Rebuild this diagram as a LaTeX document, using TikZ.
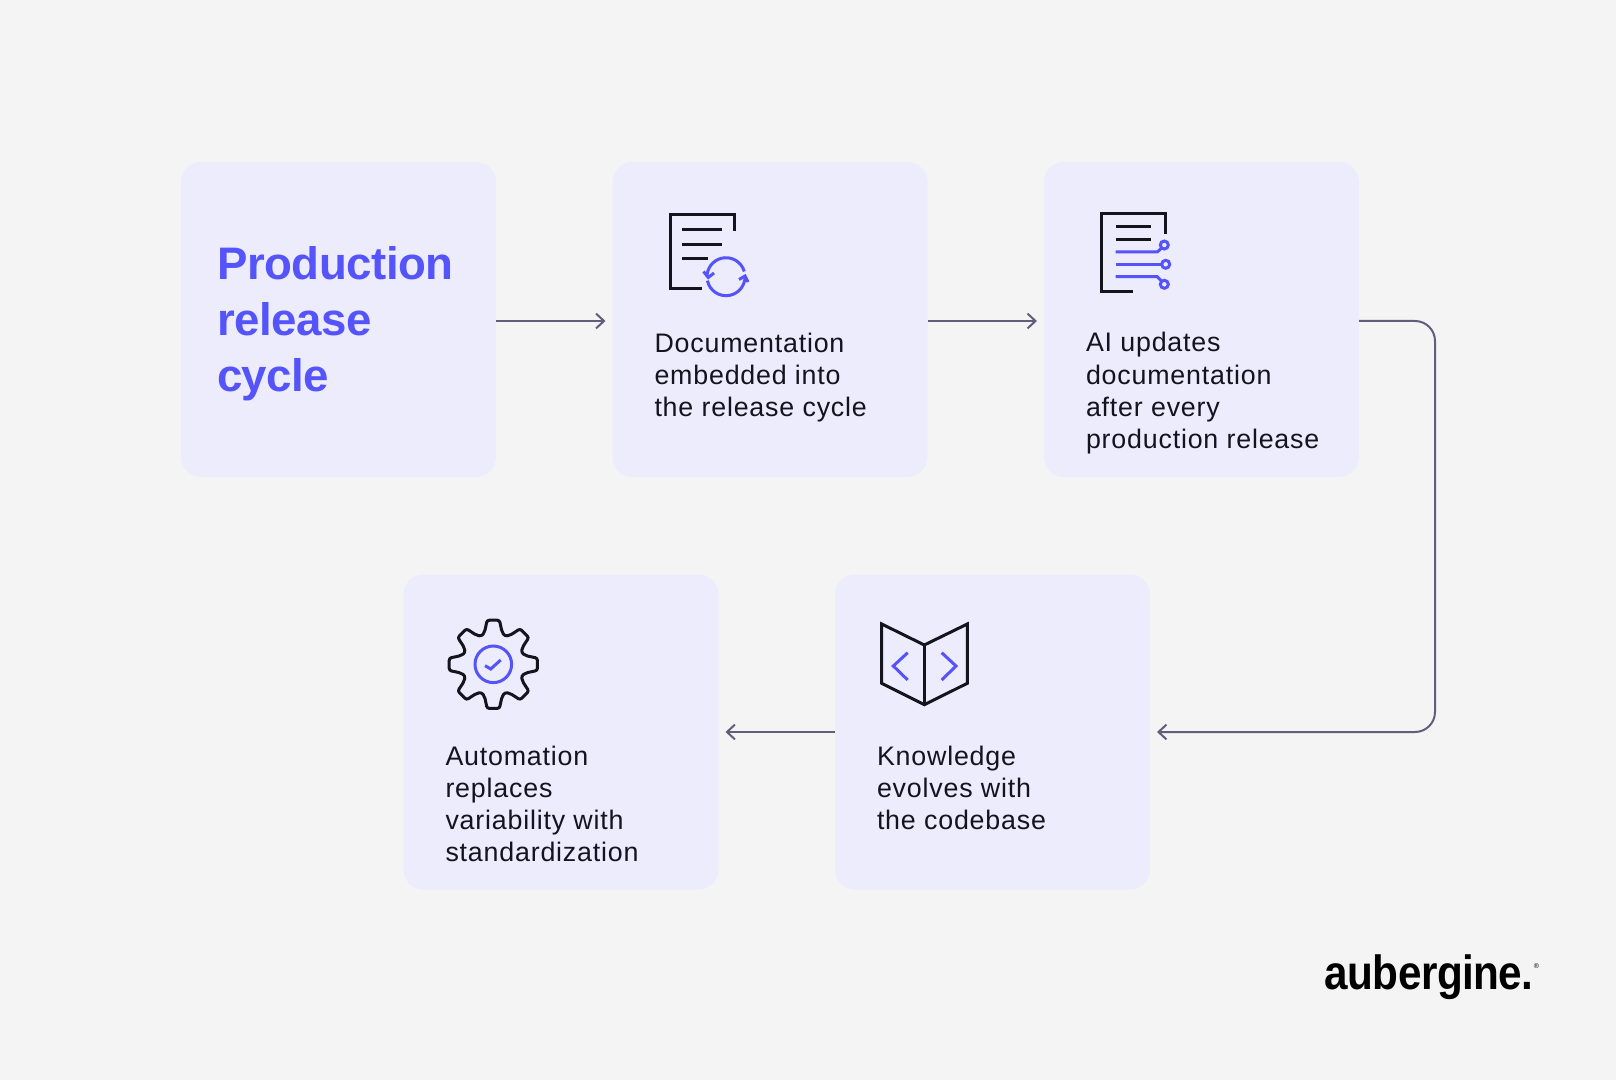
\documentclass[tikz,border=0pt]{standalone}
\usepackage{fontspec}
\setmainfont{Liberation Sans}
\newfontfamily\bodyfont[LetterSpace=3]{Liberation Sans}
\newfontfamily\headfont[LetterSpace=-1]{Liberation Sans Bold}
\newfontfamily\logofont[FakeStretch=0.88,LetterSpace=-1]{Liberation Sans Bold}
\usetikzlibrary{arrows.meta}
\definecolor{pagebg}{HTML}{F4F4F4}
\definecolor{boxbg}{HTML}{EDECFD}
\definecolor{accent}{HTML}{5454FA}
\definecolor{ink}{HTML}{14141F}
\definecolor{wire}{HTML}{615E7C}
\tikzset{
  card/.style={fill=boxbg,draw=none,rounded corners=10pt,minimum width=157.5pt,minimum height=157.5pt,inner sep=0pt,outer sep=0pt},
  conn/.style={draw=wire,line width=1pt,-{Straight Barb[length=4pt,width=7.4pt,line width=1pt]},shorten >=3.5pt},
  label/.style={anchor=base west,align=left,inner sep=0pt,outer sep=0pt,text=ink,font=\bodyfont\fontsize{13.4}{16}\selectfont},
  headline/.style={anchor=base west,align=left,inner sep=0pt,outer sep=0pt,text=accent,font=\headfont\fontsize{22.8}{28}\selectfont},
  iconk/.style={draw=ink,line width=1.5pt,line cap=butt,line join=miter},
  iconb/.style={draw=accent,line width=1.5pt,line join=miter},
}
\begin{document}
\begin{tikzpicture}[x=0.5pt,y=-0.5pt]
\fill[pagebg] (0,0) rectangle (1616,1080);
\useasboundingbox (0,0) rectangle (1616,1080);
% cards
\node[card] (b1) at (338.5,319.5) {};
\node[card] (b2) at (770,319.5) {};
\node[card] (b3) at (1201.5,319.5) {};
\node[card] (b4) at (992.5,732) {};
\node[card] (b5) at (561,732) {};
% texts
\node[headline] (t1) at (217,391.7) {Production\\release\\cycle};
\node[label] (t2) at (654.5,416) {Documentation\\embedded into\\the release cycle};
\node[label] (t3) at (1086,448) {AI updates\\documentation\\after every\\production release};
\node[label] (t4) at (877,829) {Knowledge\\evolves with\\the codebase};
\node[label] (t5) at (445.5,861) {Automation\\replaces\\variability with\\standardization};
% connectors
\draw[conn] ([yshift=-0.75pt]b1.east) -- ([yshift=-0.75pt]b2.west);
\draw[conn] ([yshift=-0.75pt]b2.east) -- ([yshift=-0.75pt]b3.west);
\coordinate (ca) at (1435,321);
\coordinate (cb) at (1435,732);
\draw[conn,rounded corners=10pt] ([yshift=-0.75pt]b3.east) -- (ca) -- (cb) -- (b4.east);
\draw[conn] (b4.west) -- (b5.east);
% icon: document with sync
\draw[iconk] (734.3,231) -- (734.3,214.3) -- (670,214.3) -- (670,288.3) -- (702.3,288.3);
\draw[iconk] (682.3,230) -- (722.3,230);
\draw[iconk] (682.3,244.3) -- (722.3,244.3);
\draw[iconk] (682.3,259) -- (708.3,259);
\coordinate (sync) at (726,276.7);
\draw[iconb] (sync) ++(344:19) arc (344:180:19);
\draw[iconb] (sync) ++(168:19) arc (168:0:19);
\draw[iconb] (703.5,271.5) -- (708.3,277.5) -- (714,273);
\draw[iconb] (739,279.5) -- (745,276) -- (748,282);
% icon: document with circuit lines
\draw[iconk] (1165.7,234) -- (1165.7,213.3) -- (1101.7,213.3) -- (1101.7,291.7) -- (1133.3,291.7);
\draw[iconk] (1115.7,227) -- (1151.3,227);
\draw[iconk] (1115.7,239.3) -- (1151.3,239.3);
\draw[iconb] (1115.7,252) -- (1157.3,252) -- (1161.5,248);
\draw[iconb] (1164.3,245) circle (4);
\draw[iconb] (1115.7,264.3) -- (1161.5,264.3);
\draw[iconb] (1165.7,264.3) circle (4);
\draw[iconb] (1115.7,276.7) -- (1157.3,276.7) -- (1161.5,281);
\draw[iconb] (1164.3,284.3) circle (4);
% icon: gear
\begin{scope}[shift={(493.3,664.3)}]
\draw[iconk,rounded corners=1.1pt] (-22.5:30.5)
  \foreach \t in {0,45,...,270} {
    -- ({\t-15}:33.5) -- ({\t-8}:44.5) -- ({\t+8}:44.5) -- ({\t+15}:33.5) -- ({\t+22.5}:30.5)
  }
  -- (300:33.5) -- (307:44.5) -- (323:44.5) -- (330:33.5) -- cycle;
\draw[iconb] (0,0) circle (18.3);
\draw[iconb] (-8.3,1.4) -- (-2.6,4.7) -- (7.4,-4.3);
\end{scope}
% icon: open book
\draw[iconk] (881.7,624) -- (924.3,645) -- (967.3,624) -- (967.3,683.3) -- (924.3,704.7) -- (881.7,683.3) -- cycle;
\draw[iconk] (924.3,645) -- (924.3,704.7);
\draw[iconb] (907.7,652.7) -- (893.3,666) -- (907.7,680);
\draw[iconb] (941.7,652.7) -- (956,666) -- (941.7,680);
% logo
\node[anchor=base west,inner sep=0pt,text=black,font=\logofont\fontsize{24}{24}\selectfont] (logo) at (1324,989) {aubergine.\kern0.1pt\raisebox{10.3pt}{\rmfamily\fontsize{3.5}{4}\selectfont ®}};
\end{tikzpicture}
\end{document}
